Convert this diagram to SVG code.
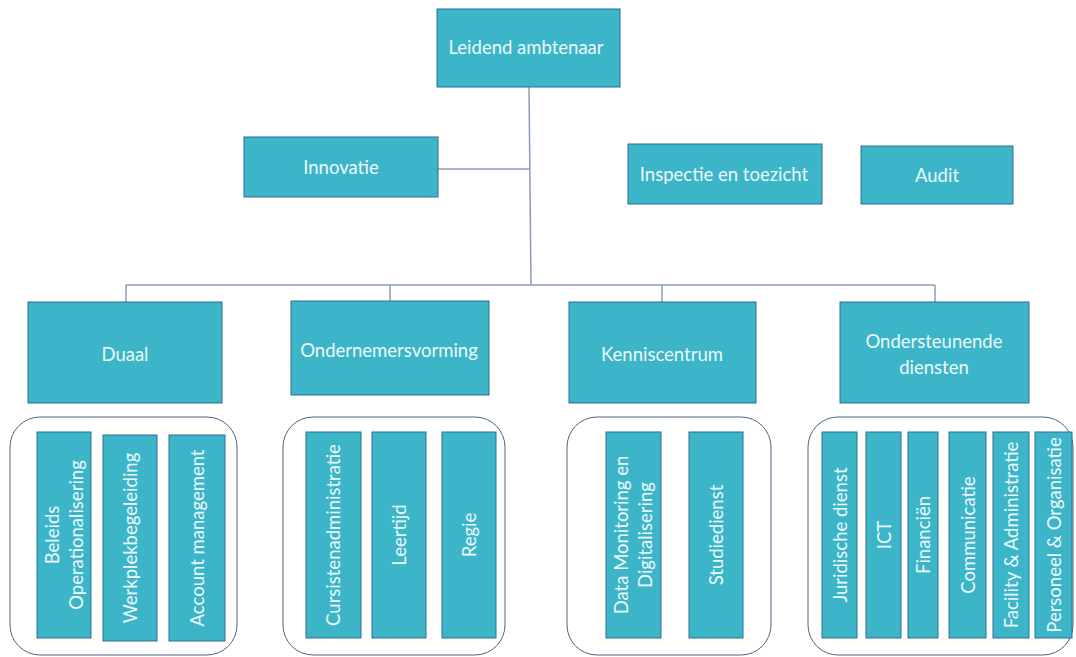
<svg xmlns="http://www.w3.org/2000/svg" width="1076" height="657" viewBox="0 0 1076 657">
<style>
.box{fill:#3db5c8;stroke:#2f6f8f;stroke-width:1}
.grp{fill:none;stroke:#4e6480;stroke-width:1}
.t{font-family:Lato,"Liberation Sans",sans-serif;font-size:18.5px;fill:#eaf9fb;text-anchor:middle;dominant-baseline:central}
.ln{stroke:#8c9cb8;stroke-width:1.5;fill:none}
</style>
<rect width="1076" height="657" fill="#ffffff"/>
<g id="connectors">
<path class="ln" d="M529,87 L531,285"/>
<path class="ln" d="M438,169 L530,169"/>
<path class="ln" d="M126,285 L935,285"/>
<path class="ln" d="M126,285 L126,302"/>
<path class="ln" d="M390,285 L390,301"/>
<path class="ln" d="M662,285 L662,302"/>
<path class="ln" d="M935,285 L935,302"/>
</g>
<g id="leidend"><rect class="box" x="437" y="9" width="183" height="78"/><text class="t" x="526" y="47">Leidend ambtenaar</text></g>
<g id="innovatie"><rect class="box" x="244" y="137" width="194" height="60"/><text class="t" x="341" y="167">Innovatie</text></g>
<g id="inspectie"><rect class="box" x="628" y="144" width="194" height="60"/><text class="t" x="724" y="174">Inspectie en toezicht</text></g>
<g id="audit"><rect class="box" x="861" y="146" width="152" height="58"/><text class="t" x="937" y="175">Audit</text></g>
<g id="duaal"><rect class="box" x="28" y="302" width="194" height="101"/><text class="t" x="125" y="354">Duaal</text></g>
<g id="ondernemersvorming"><rect class="box" x="291" y="301" width="198" height="94"/><text class="t" x="389" y="350">Ondernemersvorming</text></g>
<g id="kenniscentrum"><rect class="box" x="569" y="302" width="187" height="101"/><text class="t" x="662" y="354">Kenniscentrum</text></g>
<g id="ondersteunende"><rect class="box" x="840" y="302" width="189" height="101"/><text class="t" x="934" y="341">Ondersteunende</text><text class="t" x="934" y="367">diensten</text></g>

<g id="groep-duaal">
<rect class="grp" x="10" y="417" width="227" height="238" rx="30" ry="30"/>
<rect class="box" x="37" y="432" width="54" height="206"/>
<text class="t" transform="translate(64,535) rotate(-90)"><tspan x="0" y="-12">Beleids</tspan><tspan x="0" y="12">Operationalisering</tspan></text>
<rect class="box" x="103" y="435" width="54" height="206"/>
<text class="t" transform="translate(130,538) rotate(-90)" x="0" y="0">Werkplekbegeleiding</text>
<rect class="box" x="169" y="435" width="56" height="206"/>
<text class="t" transform="translate(197,538) rotate(-90)" x="0" y="0">Account management</text>
</g>

<g id="groep-ondernemersvorming">
<rect class="grp" x="283" y="417" width="222" height="238" rx="30" ry="30"/>
<rect class="box" x="306" y="432" width="55" height="206"/>
<text class="t" transform="translate(333,535) rotate(-90)" x="0" y="0">Cursistenadministratie</text>
<rect class="box" x="372" y="432" width="54" height="206"/>
<text class="t" transform="translate(399,535) rotate(-90)" x="0" y="0">Leertijd</text>
<rect class="box" x="442" y="432" width="54" height="206"/>
<text class="t" transform="translate(469,535) rotate(-90)" x="0" y="0">Regie</text>
</g>

<g id="groep-kenniscentrum">
<rect class="grp" x="567" y="417" width="204" height="238" rx="30" ry="30"/>
<rect class="box" x="606" y="432" width="55" height="206"/>
<text class="t" transform="translate(633,535) rotate(-90)"><tspan x="0" y="-12">Data Monitoring en</tspan><tspan x="0" y="12">Digitalisering</tspan></text>
<rect class="box" x="689" y="432" width="54" height="206"/>
<text class="t" transform="translate(716,535) rotate(-90)" x="0" y="0">Studiedienst</text>
</g>

<g id="groep-ondersteunende">
<rect class="grp" x="808" y="417" width="265" height="238" rx="30" ry="30"/>
<rect class="box" x="822" y="432" width="35" height="206"/>
<text class="t" transform="translate(839.5,535) rotate(-90)" x="0" y="0">Juridische dienst</text>
<rect class="box" x="866" y="432" width="35" height="206"/>
<text class="t" transform="translate(883.5,535) rotate(-90)" x="0" y="0">ICT</text>
<rect class="box" x="908" y="432" width="30" height="206"/>
<text class="t" transform="translate(923,535) rotate(-90)" x="0" y="0">Financiën</text>
<rect class="box" x="949" y="432" width="37" height="206"/>
<text class="t" transform="translate(967.5,535) rotate(-90)" x="0" y="0">Communicatie</text>
<rect class="box" x="993" y="432" width="36" height="206"/>
<text class="t" transform="translate(1011,535) rotate(-90)" x="0" y="0">Facility &amp; Administratie</text>
<rect class="box" x="1035" y="432" width="37" height="206"/>
<text class="t" transform="translate(1053.5,535) rotate(-90)" x="0" y="0">Personeel &amp; Organisatie</text>
</g>
</svg>
